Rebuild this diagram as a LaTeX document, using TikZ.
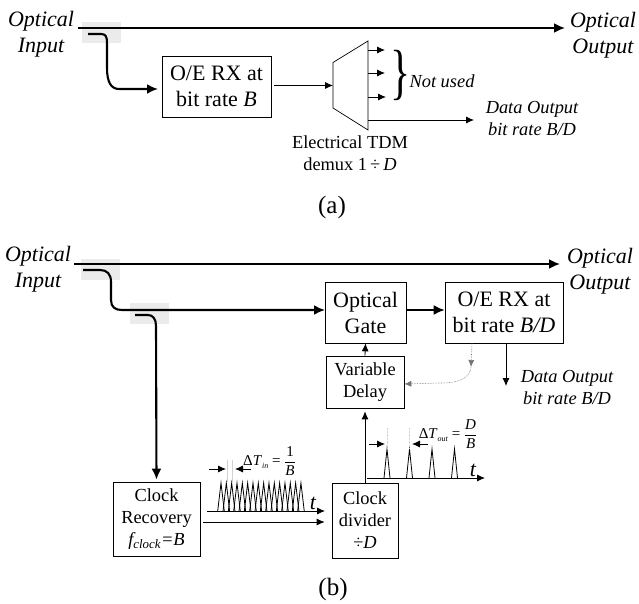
\documentclass[tikz,border=0pt]{standalone}
\usepackage{amsmath}
\usepackage{fontspec}
\setmainfont{Liberation Serif}
\usetikzlibrary{arrows.meta}
\newcommand{\bigsize}{\fontsize{22}{26}\selectfont}
\newcommand{\midsize}{\fontsize{18.4}{22}\selectfont}
\newcommand{\smallsize}{\fontsize{15}{17}\selectfont}
\begin{document}
\begin{tikzpicture}[x=1pt,y=-1pt,>=Latex,font=\midsize,
  blockbig/.style={draw,line width=.7pt,align=center,inner sep=0pt,font=\bigsize},
  blockmid/.style={draw,line width=.7pt,align=center,inner sep=0pt,font=\midsize},
  portlabel/.style={align=center,inner sep=0pt,font=\bigsize\itshape},
  datalabel/.style={align=center,inner sep=0pt,font=\midsize\itshape},
  caption/.style={inner sep=0pt,font=\fontsize{25}{28}\selectfont},
  thickarrow/.style={line width=1.8pt,-{Latex[length=11pt,width=10pt]}},
  fibrearrow/.style={line width=2.1pt,-{Latex[length=11pt,width=10pt]}},
  thinarrow/.style={line width=.8pt,-{Latex[length=8pt,width=7pt]}},
  tap/.style={fill=black!8,draw=none},
  pulse/.style={line width=.8pt},
  guide/.style={line width=.4pt,black!18},
  feedback/.style={line width=.6pt,black!55,densely dotted,-{Latex[length=7pt,width=6pt]}}]
\useasboundingbox (0,0) rectangle (639,604);
% (a)
\fill[tap] (82,22) rectangle (121,43);
\fill[tap] (81,259) rectangle (120,280);
\fill[tap] (130,303) rectangle (169,324);
\node[portlabel,text width=80pt] (ina) at (41,34) {Optical\\Input};
\node[portlabel,text width=80pt] (outa) at (603,35) {Optical\\Output};
\coordinate (ina0) at (78,28);
\coordinate (outa0) at (565,28);
\draw[thickarrow] (ina0)--(outa0);
\node[blockbig,minimum width=109pt,minimum height=61pt] (rxa) at (216.5,86.5) {O/E RX at\\bit rate \textit{B}};
\coordinate (tapa) at (88,34);
\coordinate (rxain) at (158,89);
\draw[fibrearrow] (tapa)--(101,34)
  .. controls (106,34) and (107,37) .. (107,43)--(107,68)
  .. controls (107,82) and (111,89) .. (119,89)--(rxain);
\coordinate (muxa) at (333,62.5);
\coordinate (muxb) at (368,41);
\coordinate (muxc) at (368,130);
\coordinate (muxd) at (333,108);
\draw[line width=.7pt] (muxa)--(muxb)--(muxc)--(muxd)--cycle;
\coordinate (muxin) at (333,85.5);
\draw[thinarrow] (rxa.east |- muxin) ++(3,0)--(muxin);
\coordinate (mux1) at (368,50);
\coordinate (mux2) at (368,73);
\coordinate (mux3) at (368,97);
\coordinate (mux4) at (368,120);
\draw[thinarrow] (mux1)--++(17,0);
\draw[thinarrow] (mux2)--++(17,0);
\draw[thinarrow] (mux3)--++(18,0);
\draw[thinarrow] (mux4)--(474,120);
\node[inner sep=0pt,font=\fontsize{58}{58}\selectfont] (bracea) at (401,75) {\scalebox{.72}[1.05]{\}}};
\node[datalabel] (unused) at (442,81) {Not used};
\node[datalabel] (dataa) at (532,119) {Data Output\\bit rate B/D};
\node[align=center,inner sep=0pt] (demux) at (350,153) {Electrical TDM\\demux 1\,÷\,\textit{D}};
\node[caption] (capa) at (332,207) {(a)};
% (b)
\node[portlabel,text width=80pt] (inb) at (38,269) {Optical\\Input};
\node[portlabel,text width=80pt] (outb) at (600,271) {Optical\\Output};
\coordinate (inb0) at (74,264);
\coordinate (outb0) at (560,264);
\draw[thickarrow] (inb0)--(outb0);
\node[blockbig,minimum width=81pt,minimum height=61pt] (gate) at (365.5,312.5) {Optical\\Gate};
\node[blockbig,minimum width=118pt,minimum height=61pt] (rxb) at (504,312.5) {O/E RX at\\bit rate \textit{B/D}};
\node[blockmid,minimum width=78pt,minimum height=52pt] (delay) at (365,382) {Variable\\Delay};
\node[blockmid,minimum width=87pt,minimum height=74pt] (recovery) at (156.5,519) {Clock\\Recovery\\\textit{f\textsubscript{clock}=B}};
\node[blockmid,minimum width=66pt,minimum height=75pt] (divider) at (365,520.5) {Clock\\divider\\÷\textit{D}};
\coordinate (tapb) at (83,270);
\coordinate (gatein) at (325,310);
\draw[fibrearrow] (tapb)--(100,270)
  .. controls (107,270) and (111,274) .. (111,282)--(111,300)
  .. controls (111,307) and (115,310) .. (122,310)--(gatein);
\coordinate (tapc) at (135,315);
\draw[fibrearrow,shorten >=2pt] (tapc)--(148,315)
  .. controls (153,315) and (156,319) .. (156,326)--(recovery.north);
\draw[thickarrow] (gate.east |- gatein)--(rxb.west |- gatein);
\draw[thinarrow] (delay.north)--(gate.south);
\draw[thinarrow,shorten >=3pt] (divider.north)--(delay.south);
\coordinate (rxout) at (506,343);
\draw[thinarrow] (rxout)--++(0,43);
\node[datalabel] (datab) at (567,387) {Data Output\\bit rate B/D};
\coordinate (fbstart) at (472,343);
\coordinate (fbmid) at (471,367);
\draw[feedback] (fbstart)--(fbmid);
\draw[feedback] (fbmid) .. controls (470,379) and (458,383) .. (440,383)--(delay.east |- 0,384);
% pulses in
\coordinate (cka) at (203,522);
\coordinate (ckb) at (207,511);
\draw[thinarrow,shorten >=7pt] (cka)--(cka -| divider.west);
\draw[thinarrow] (ckb)--(325,511);
\foreach \p in {0,...,15}
  \draw[pulse] ({221+\p*5.33-3.3},511)--({221+\p*5.33},483)--({221+\p*5.33+3.3},511);
\draw[guide] (227,460)--(227,482) (232,460)--(232,482);
\coordinate (dina) at (209,469);
\coordinate (dinb) at (251,469);
\draw[thinarrow] (dina)--(226,469);
\draw[thinarrow] (dinb)--(235,469);
\node[inner sep=0pt,font=\smallsize] (dtin) at (269.5,461) {Δ\textit{T}\raisebox{-3pt}{\fontsize{8}{8}\selectfont\textit{in}} = $\dfrac{\text{\smallsize 1}}{\text{\smallsize\textit{B}}}$};
\node[inner sep=0pt,font=\bigsize\itshape] (tin) at (313,503) {t};
% pulses out
\coordinate (ckc) at (367,478);
\draw[thinarrow] (ckc)--(485,478);
\foreach \p in {387,409.5,432,454.5}
  \draw[pulse] (\p-3,478)--(\p,449)--(\p+3,478);
\draw[guide,densely dotted] (387,428)--(387,449) (409.5,428)--(409.5,449);
\coordinate (dota) at (369,444);
\coordinate (dotb) at (428,444);
\draw[thinarrow] (dota)--(385,444);
\draw[thinarrow] (dotb)--(412,444);
\node[inner sep=0pt,font=\smallsize] (dtout) at (448,434) {Δ\textit{T}\raisebox{-3pt}{\fontsize{8}{8}\selectfont\textit{out}} = $\dfrac{\text{\smallsize\textit{D}}}{\text{\smallsize\textit{B}}}$};
\node[inner sep=0pt,font=\bigsize\itshape] (tout) at (473,470) {t};
\node[caption] (capb) at (333,589) {(b)};
\end{tikzpicture}
\end{document}
